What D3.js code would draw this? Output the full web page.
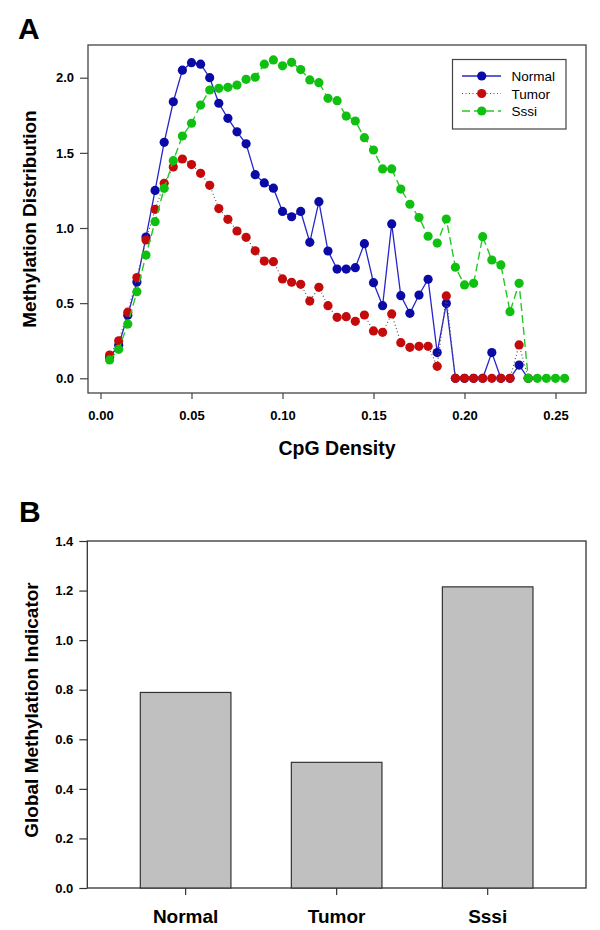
<!DOCTYPE html>
<html>
<head>
<meta charset="utf-8">
<script src="https://cdn.jsdelivr.net/npm/d3@7"></script>
<style>
  body { margin: 0; background: #fff; }
  svg { display: block; font-family: "Liberation Sans", Arial, sans-serif; }
</style>
</head>
<body>
<svg id="chart" width="600" height="930"></svg>
<script>
// ---------- Data (panel A) ----------
const normalValues = [0.14,0.22,0.42,0.64,0.94,1.25,1.57,1.84,2.05,2.10,2.09,2.00,1.83,1.73,1.64,1.56,1.355,1.30,1.265,1.11,1.075,1.11,0.905,1.175,0.847,0.727,0.727,0.736,0.896,0.636,0.483,1.027,0.55,0.432,0.554,0.659,0.171,0.497,0,0,0,0,0.171,0,0,0.088,0];
const tumorValues = [0.155,0.25,0.44,0.67,0.92,1.124,1.297,1.406,1.459,1.422,1.364,1.284,1.129,1.058,0.98,0.938,0.848,0.78,0.776,0.661,0.639,0.625,0.514,0.605,0.483,0.406,0.41,0.379,0.421,0.315,0.306,0.428,0.237,0.206,0.213,0.213,0.08,0.548,0,0,0,0,0,0,0,0.222,0];
const sssiValues = [0.122,0.193,0.361,0.576,0.82,1.042,1.264,1.448,1.612,1.697,1.818,1.918,1.929,1.936,1.951,1.989,2.003,2.09,2.118,2.079,2.102,2.054,1.985,1.967,1.863,1.847,1.745,1.712,1.601,1.519,1.393,1.393,1.259,1.158,1.07,0.945,0.9,1.06,0.739,0.621,0.632,0.942,0.787,0.754,0.443,0.632,0,0,0,0,0];
const densityStart = 0.005, densityStep = 0.005;
const xTicksA = [0.00,0.05,0.10,0.15,0.20,0.25];
const yTicksA = [0.0,0.5,1.0,1.5,2.0];
const seriesNames = ["Normal","Tumor","Sssi"];

// ---------- Data (panel B) ----------
const categoriesB = ["Normal","Tumor","Sssi"];
const valuesB = [0.789, 0.507, 1.215];
const yTicksB = [0.0,0.2,0.4,0.6,0.8,1.0,1.2,1.4];

const svg = d3.select("#chart");

// ================= Panel A =================
const A = {left: 88, right: 586, top: 45, bottom: 393};
const xA = d3.scaleLinear().domain([0, 0.25]).range([100.5, 555.5]);
const yA = d3.scaleLinear().domain([0, 2]).range([378.3, 77.7]);

svg.append("text").attr("x", 18).attr("y", 39).attr("font-size", 30).attr("font-weight", "bold").text("A");

const gA = svg.append("g");
gA.append("rect").attr("x", A.left).attr("y", A.top).attr("width", A.right - A.left).attr("height", A.bottom - A.top)
  .attr("fill", "none").attr("stroke", "#444").attr("stroke-width", 1.3);

const xAxisA = d3.axisBottom(xA).tickValues(xTicksA).tickFormat(d3.format(".2f")).tickSize(6).tickPadding(12);
const gxA = gA.append("g").attr("transform", `translate(0,${A.bottom})`).call(xAxisA);
gxA.select(".domain").remove();
gxA.selectAll("line").attr("stroke", "#444").attr("stroke-width", 1.2);
gxA.selectAll("text").attr("font-size", 13).attr("font-weight", "bold").attr("fill", "#000").attr("font-family", "Liberation Sans, Arial, sans-serif");

const yAxisA = d3.axisLeft(yA).tickValues(yTicksA).tickFormat(d3.format(".1f")).tickSize(8).tickPadding(6);
const gyA = gA.append("g").attr("transform", `translate(${A.left},0)`).call(yAxisA);
gyA.select(".domain").remove();
gyA.selectAll("line").attr("stroke", "#444").attr("stroke-width", 1.2);
gyA.selectAll("text").attr("font-size", 13).attr("font-weight", "bold").attr("fill", "#000").attr("font-family", "Liberation Sans, Arial, sans-serif");

svg.append("text").attr("x", (A.left + A.right) / 2).attr("y", 455).attr("text-anchor", "middle")
  .attr("font-size", 19.5).attr("font-weight", "bold").text("CpG Density");
svg.append("text").attr("transform", `translate(36,${(A.top + A.bottom) / 2}) rotate(-90)`).attr("text-anchor", "middle")
  .attr("font-size", 19).attr("font-weight", "bold").text("Methylation Distribution");

const series = [
  {name: seriesNames[0], values: normalValues, line: "#2626c8", dot: "#0a0aa6", dash: null, width: 1.3},
  {name: seriesNames[1], values: tumorValues, line: "#555", dot: "#c40a0a", dash: "1,2.5", width: 1.2},
  {name: seriesNames[2], values: sssiValues, line: "#26c826", dot: "#10c010", dash: "8,4", width: 1.4}
];

const lineGen = d3.line().x(d => xA(d.x)).y(d => yA(d.y));
series.forEach(s => {
  const pts = s.values.map((v, i) => ({x: densityStart + i * densityStep, y: v}));
  gA.append("path").datum(pts).attr("d", lineGen).attr("fill", "none")
    .attr("stroke", s.line).attr("stroke-width", s.width).attr("stroke-dasharray", s.dash);
  gA.selectAll(null).data(pts).enter().append("circle")
    .attr("cx", d => xA(d.x)).attr("cy", d => yA(d.y)).attr("r", 4.6).attr("fill", s.dot);
});

const leg = svg.append("g");
leg.append("rect").attr("x", 452.5).attr("y", 59.5).attr("width", 113.5).attr("height", 69.5)
  .attr("fill", "#fff").attr("stroke", "#444").attr("stroke-width", 1.2);
series.forEach((s, i) => {
  const y = 76 + i * 17.5;
  leg.append("line").attr("x1", 462).attr("x2", 501).attr("y1", y).attr("y2", y)
    .attr("stroke", s.line).attr("stroke-width", s.width).attr("stroke-dasharray", s.dash);
  leg.append("circle").attr("cx", 481.7).attr("cy", y).attr("r", 4.6).attr("fill", s.dot);
  leg.append("text").attr("x", 511.5).attr("y", y + 5).attr("font-size", 13.5).attr("font-family", "Liberation Sans, Arial, sans-serif").text(s.name);
});

// ================= Panel B =================
const B = {left: 87.3, right: 586, top: 541, bottom: 888};
svg.append("text").attr("x", 19).attr("y", 522).attr("font-size", 30).attr("font-weight", "bold").text("B");

const xB = d3.scaleBand().domain(categoriesB).range([B.left, B.right]).paddingInner(0.4).paddingOuter(0.351);
const yB = d3.scaleLinear().domain([0, 1.4]).range([B.bottom, B.top]);

const gB = svg.append("g");
gB.append("rect").attr("x", B.left).attr("y", B.top).attr("width", B.right - B.left).attr("height", B.bottom - B.top)
  .attr("fill", "none").attr("stroke", "#333").attr("stroke-width", 1.3);

gB.selectAll(".bar").data(categoriesB).enter().append("rect")
  .attr("x", d => xB(d)).attr("width", xB.bandwidth())
  .attr("y", (d, i) => yB(valuesB[i])).attr("height", (d, i) => yB(0) - yB(valuesB[i]))
  .attr("fill", "#c0c0c0").attr("stroke", "#333").attr("stroke-width", 1.2);

const xAxisB = d3.axisBottom(xB).tickSize(7).tickPadding(15);
const gxB = gB.append("g").attr("transform", `translate(0,${B.bottom})`).call(xAxisB);
gxB.select(".domain").remove();
gxB.selectAll("line").attr("stroke", "#333").attr("stroke-width", 1.2);
gxB.selectAll("text").attr("font-size", 19).attr("font-weight", "bold").attr("fill", "#000").attr("font-family", "Liberation Sans, Arial, sans-serif");

const yAxisB = d3.axisLeft(yB).tickValues(yTicksB).tickFormat(d3.format(".1f")).tickSize(8).tickPadding(6);
const gyB = gB.append("g").attr("transform", `translate(${B.left},0)`).call(yAxisB);
gyB.select(".domain").remove();
gyB.selectAll("line").attr("stroke", "#333").attr("stroke-width", 1.2);
gyB.selectAll("text").attr("font-size", 13).attr("font-weight", "bold").attr("fill", "#000").attr("font-family", "Liberation Sans, Arial, sans-serif");

svg.append("text").attr("transform", `translate(38,710) rotate(-90)`).attr("text-anchor", "middle")
  .attr("font-size", 19).attr("font-weight", "bold").text("Global Methylation Indicator");
</script>
</body>
</html>
